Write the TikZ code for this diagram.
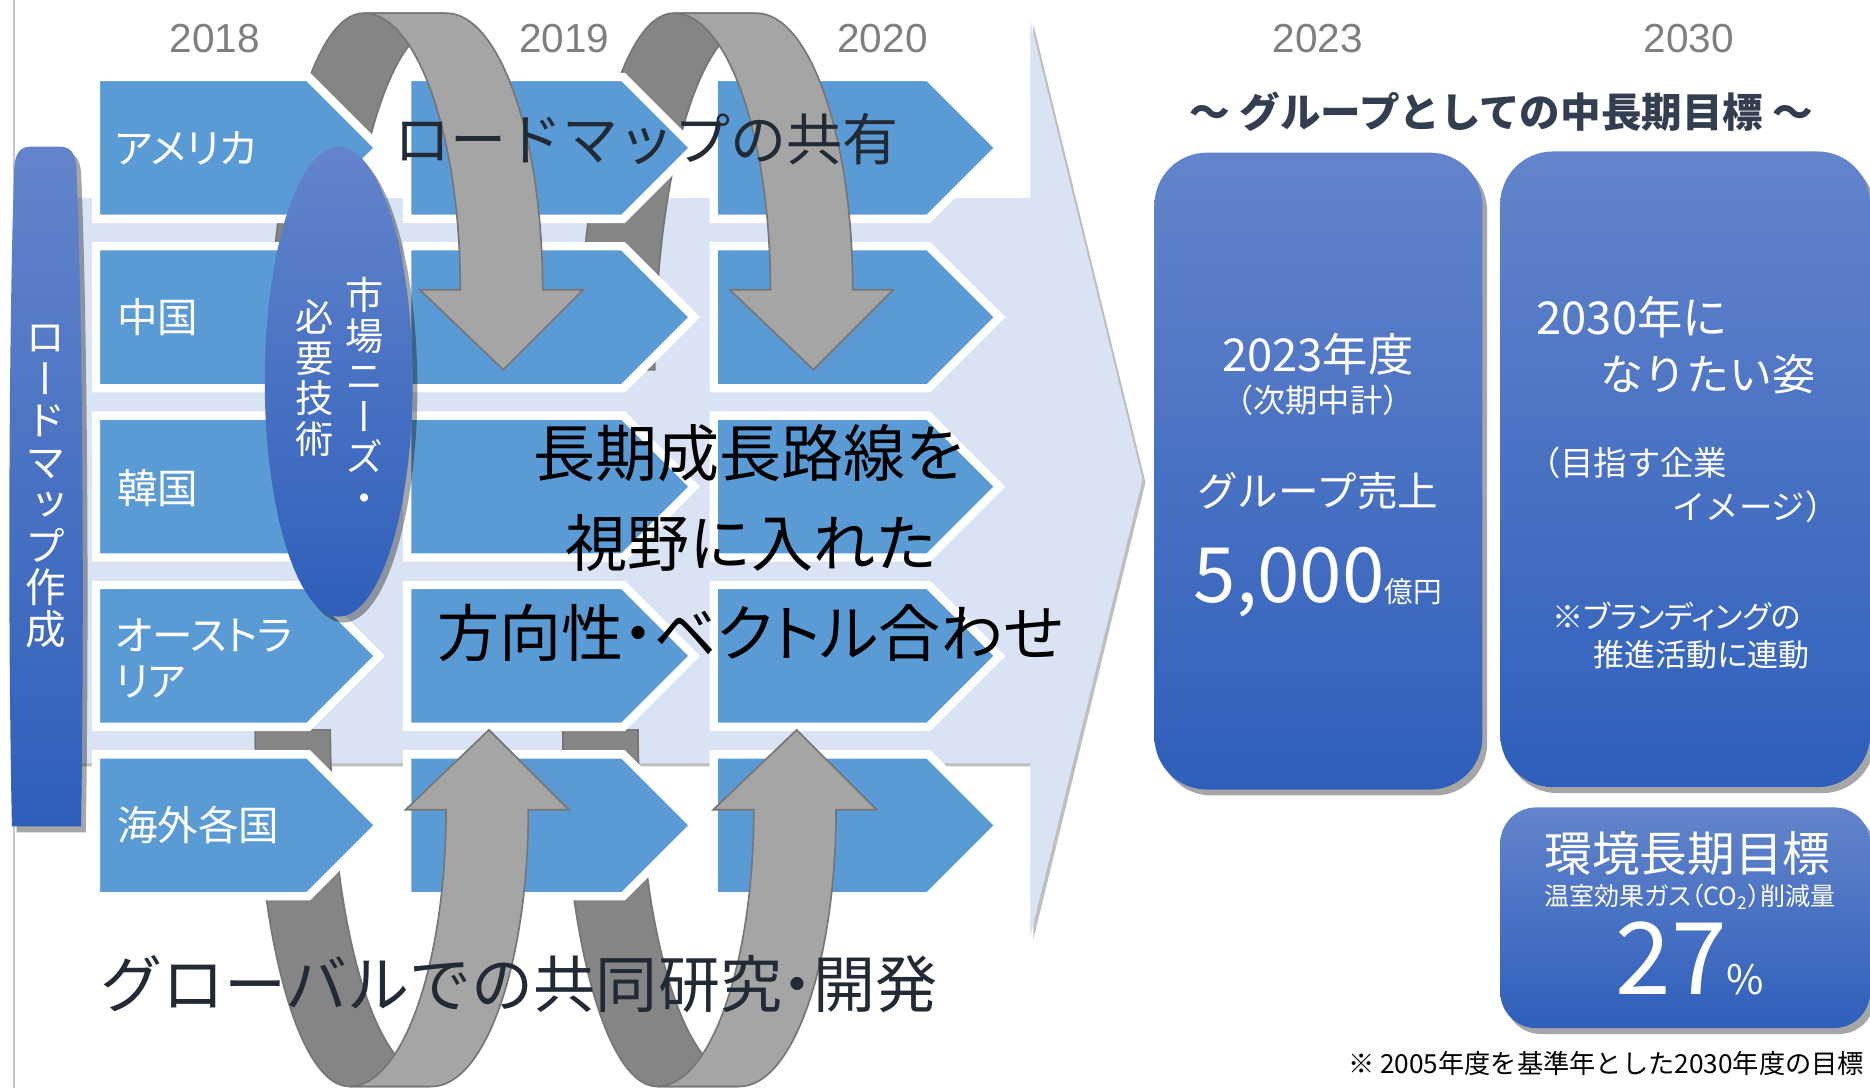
\documentclass[tikz,border=0pt]{standalone}
\usepackage{fontspec}
\setmainfont{Noto Sans CJK JP}
\newfontfamily\jp{Noto Sans CJK JP}
\newfontfamily\jpp[RawFeature=+palt]{Noto Sans CJK JP}
\newfontfamily\jpv[RawFeature=+vert]{Noto Sans CJK JP}
\newfontfamily\arialf{Liberation Sans}
\usetikzlibrary{shadows,shapes.geometric}
\definecolor{bgblue}{HTML}{DAE3F3}
\definecolor{chevblue}{HTML}{5B9BD5}
\definecolor{gtop}{HTML}{6384CB}
\definecolor{gbot}{HTML}{2F5FBB}
\definecolor{lgray}{HTML}{A5A5A5}
\definecolor{dgray}{HTML}{858585}
\definecolor{edgegray}{HTML}{767676}
\definecolor{yeargray}{HTML}{7F7F7F}
\definecolor{navy}{HTML}{222A35}
\definecolor{slate}{HTML}{333F50}
\tikzset{
 chev/.style={fill=chevblue, draw=white, line width=3.5pt, line join=miter},
 darkband/.style={fill=dgray, draw=edgegray, line width=0.7pt},
 lightband/.style={fill=lgray, draw=edgegray, line width=0.7pt, line join=miter},
 year/.style={font=\arialf\fontsize{17}{17}\selectfont, text=yeargray, inner sep=0},
 lbl/.style={font=\jpp\fontsize{17}{19.5}\selectfont, text=white, anchor=west, inner sep=0, align=left},
 vt/.style={font=\jpv\fontsize{16}{17}\selectfont, text=white, inner sep=0, align=center},
 big/.style={inner sep=0, text=navy},
 grad/.style={top color=gtop, bottom color=gbot},
 shad/.style={drop shadow={shadow xshift=2pt, shadow yshift=-2.5pt, opacity=0.35, fill=black}},
 wt/.style={text=white, inner sep=0}
}
\newcommand\mychev[4]{%
 \path[chev] (#2,#3-59.5) -- (#4-59.5,#3-59.5) -- (#4,#3) -- (#4-59.5,#3+59.5) -- (#2,#3+59.5) -- cycle;
 \coordinate (#1) at (#2,#3);}
\newcommand\garrow[1]{%
 \begin{scope}[#1]
 \path[darkband] (226,310) .. controls (226,145) and (261,11) .. (305,11) -- (372,11) -- (372,20)
   .. controls (326,20) and (289,150) .. (289,310) -- cycle;
 \path[lightband] (305,11) -- (374,11) .. controls (419,11) and (455,115) .. (455,243) -- (489,243)
   -- (422,310) -- (352,243) -- (386,243) .. controls (386,115) and (350,11) .. (305,11) -- cycle;
 \end{scope}}
\begin{document}
\begin{tikzpicture}[x=0.5pt, y=-0.5pt]
\useasboundingbox (0,0) rectangle (1568,912);
\fill[white] (0,0) rectangle (1568,912);
\draw[black!22, line width=0.8pt] (12,0) -- (12,912);
% big background arrow
\fill[black!25, shift={(2.5,2.5)}] (40,166) -- (864,166) -- (864,18) -- (958,402) -- (864,785) -- (864,640) -- (40,640) -- cycle;
\fill[bgblue] (40,166) -- (864,166) -- (864,18) -- (958,402) -- (864,785) -- (864,640) -- (40,640) -- cycle;
% column 3
\foreach \r/\yy in {1/124,2/266,3/408,4/550,5/692} {\mychev{c3\r}{598.5}{\yy}{838}}
% arrows 2 and 4
\garrow{shift={(260,0)}}
\garrow{shift={(246,922)}, yscale=-1}
% column 2
\foreach \r/\yy in {1/124,2/266,3/408,4/550,5/692} {\mychev{c2\r}{341.5}{\yy}{582}}
% arrows 1 and 3
\garrow{}
\garrow{shift={(-12,922)}, yscale=-1}
% column 1
\foreach \r/\yy in {1/124,2/266,3/408,4/550,5/692} {\mychev{c1\r}{80.5}{\yy}{318}}
\node[lbl] (lusa) at (96,124) {アメリカ};
\node[lbl] (lchn) at (98,266) {中国};
\node[lbl] (lkor) at (98,409) {韓国};
\node[lbl] (laus) at (96,552) {オーストラ\\リア};
\node[lbl] (loth) at (98,692) {海外各国};
% ellipse
\node[ellipse, grad, shad, minimum width=62pt, minimum height=197pt, inner sep=0] (needs) at (284,320) {};
\node[vt] (tneeds) at (306,331) {市\\場\\ニ\\ー\\ズ\\・};
\node[vt] (tgijutsu) at (264,317) {必\\要\\技\\術};
% pill
\path[grad, shad] (10,693) .. controls (6,500) and (8,250) .. (12,140) .. controls (13,128) and (17,123) .. (26,123) -- (50,123)
  .. controls (59,123) and (63,128) .. (64,140) .. controls (69,250) and (71,500) .. (68,693) -- cycle;
\node[vt, font=\jpv\fontsize{17}{17.5}\selectfont] (tpill) at (38,408) {ロ\\ー\\ド\\マ\\ッ\\プ\\作\\成};
% years
\node[year] (y2018) at (180,32) {2018};
\node[year] (y2019) at (473,32) {2019};
\node[year] (y2020) at (740,32) {2020};
\node[year] (y2023) at (1105,32) {2023};
\node[year] (y2030) at (1416,32) {2030};
% big texts
\node[big, font=\jp\fontsize{23.5}{23.5}\selectfont] (share) at (542,117) {ロードマップの共有};
\node[inner sep=0, text=black, font=\jp\fontsize{26}{26}\selectfont] (l1) at (629,380) {長期成長路線を};
\node[inner sep=0, text=black, font=\jp\fontsize{26}{26}\selectfont] (l2) at (630,455) {視野に入れた};
\node[inner sep=0, text=black, font=\jpp\fontsize{26}{26}\selectfont] (l3) at (629,531) {方向性・ベクトル合わせ};
\node[big, font=\jp\fontsize{26}{26}\selectfont] (glob) at (435,825) {グローバルでの共同研究{\jpp ・}開発};
% right side
\node[inner sep=0, text=slate, font=\jp\bfseries\fontsize{17}{17}\selectfont] (head) at (1259,94) {～ グループとしての中長期目標 ～};
\path[grad, shad, rounded corners=22pt] (968,128) rectangle (1243,662);
\coordinate (r1) at (1105,395);
\path[grad, shad, rounded corners=22pt] (1258,127) rectangle (1568,660);
\coordinate (r2) at (1413,393);
\path[grad, shad, rounded corners=15pt] (1258,677) rectangle (1568,862);
\coordinate (r3) at (1413,770);
\node[wt, font=\jp\fontsize{19}{19}\selectfont] (t2023) at (1105,297) {2023年度};
\node[wt, font=\jp\fontsize{13.5}{13.5}\selectfont] (tjiki) at (1105,336) {（次期中計）};
\node[wt, font=\jp\fontsize{17}{17}\selectfont] (turi) at (1105,412) {グループ売上};
\node[wt, anchor=base, font=\jp] (t5000) at (1105,505) {\fontsize{32}{32}\selectfont 5,000\fontsize{12}{12}\selectfont 億円};
\node[wt, anchor=west, font=\jp\fontsize{19}{19}\selectfont] (t2030a) at (1288,266) {2030年に};
\node[wt, anchor=west, font=\jp\fontsize{18}{18}\selectfont] (t2030b) at (1342,314) {なりたい姿};
\node[wt, anchor=west, font=\jp\fontsize{14}{14}\selectfont] (tmezasu) at (1280,388) {（目指す企業};
\node[wt, anchor=east, font=\jp\fontsize{14}{14}\selectfont] (timage) at (1542,425) {イメージ）};
\node[wt, font=\jpp\fontsize{13}{13}\selectfont] (tbrand) at (1406,517) {※ブランディングの};
\node[wt, font=\jpp\fontsize{13}{13}\selectfont] (tsuishin) at (1427,549) {推進活動に連動};
\node[wt, font=\jp\fontsize{20}{20}\selectfont] (tkankyo) at (1415,716) {環境長期目標};
\node[wt, font=\jpp\fontsize{10.5}{10.5}\selectfont] (tco2) at (1417,752) {温室効果ガス（CO\textsubscript{2}）削減量};
\node[wt, anchor=base, font=\jp, text height=29pt, text depth=0pt] (t27) at (1417,834) {\fontsize{42}{42}\selectfont 27\fontsize{17}{17}\selectfont\%};
\node[anchor=west, inner sep=0, font=\jp\fontsize{11}{11}\selectfont] (note) at (1130,892) {※ 2005年度を基準年とした2030年度の目標};
\end{tikzpicture}
\end{document}
